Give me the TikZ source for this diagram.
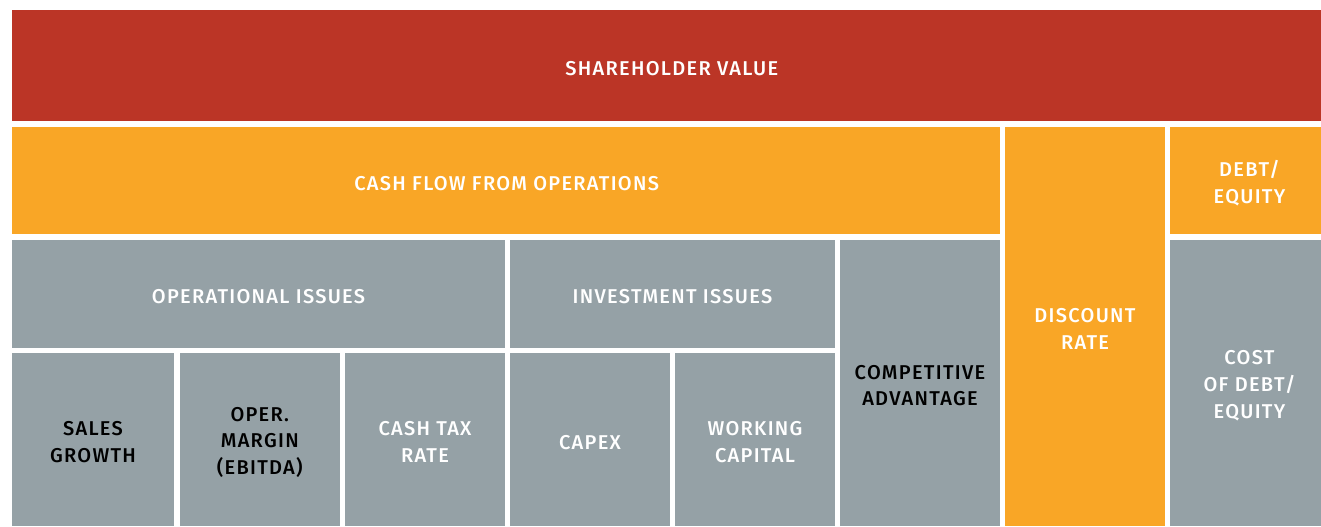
\documentclass[tikz,border=0pt]{standalone}
\usepackage{fontspec}
\setmainfont{Fira Sans}[UprightFont=* Medium,LetterSpace=6.5]
\definecolor{cred}{HTML}{BB3526}
\definecolor{corange}{HTML}{F9A626}
\definecolor{cgray}{HTML}{95A1A6}
\begin{document}
\begin{tikzpicture}[x=0.75pt,y=-0.75pt,
  blk/.style={anchor=north west,inner sep=0pt,outer sep=0pt},
  redb/.style={blk,fill=cred},
  orb/.style={blk,fill=corange},
  grb/.style={blk,fill=cgray},
  lbl/.style={inner sep=0pt,align=center,font=\fontsize{15}{20}\selectfont},
  lw/.style={lbl,text=white},
  lk/.style={lbl,text=black}]
\useasboundingbox (0,0) rectangle (1321,526);
\fill[white] (0,0) rectangle (1321,526);
\newcommand{\blkbox}[9]{% box style, name, x, y, w, h, label style, xshift, text
  \node[#1,minimum width=#5*0.75pt,minimum height=#6*0.75pt] (#2) at (#3,#4) {};
  \node[#7] (#2-t) at ([xshift=#8pt,yshift=-2pt]#2.center) {#9};}
\blkbox{redb}{sv}{12}{10}{1309}{111}{lw}{4}{SHAREHOLDER VALUE}
\blkbox{orb}{cf}{12}{127}{988}{107}{lw}{0.5}{CASH FLOW FROM OPERATIONS}
\blkbox{orb}{dr}{1005}{127}{160}{399}{lw}{0}{DISCOUNT\\RATE}
\blkbox{orb}{de}{1170}{127}{151}{107}{lw}{3}{DEBT/\\EQUITY}
\blkbox{grb}{oi}{12}{240}{493}{108}{lw}{0}{OPERATIONAL ISSUES}
\blkbox{grb}{ii}{510}{240}{325}{108}{lw}{0}{INVESTMENT ISSUES}
\blkbox{grb}{ca}{840}{240}{160}{286}{lk}{0}{COMPETITIVE\\ADVANTAGE}
\blkbox{grb}{cd}{1170}{240}{151}{286}{lw}{3}{COST\\OF DEBT/\\EQUITY}
\blkbox{grb}{sg}{12}{353}{162}{173}{lk}{0}{SALES\\GROWTH}
\blkbox{grb}{om}{180}{353}{159.5}{173}{lk}{0}{OPER.\\MARGIN\\(EBITDA)}
\blkbox{grb}{ct}{345}{353}{160}{173}{lw}{0}{CASH TAX\\RATE}
\blkbox{grb}{cx}{510}{353}{160}{173}{lw}{0}{CAPEX}
\blkbox{grb}{wc}{675}{353}{160}{173}{lw}{0}{WORKING\\CAPITAL}
\end{tikzpicture}
\end{document}
